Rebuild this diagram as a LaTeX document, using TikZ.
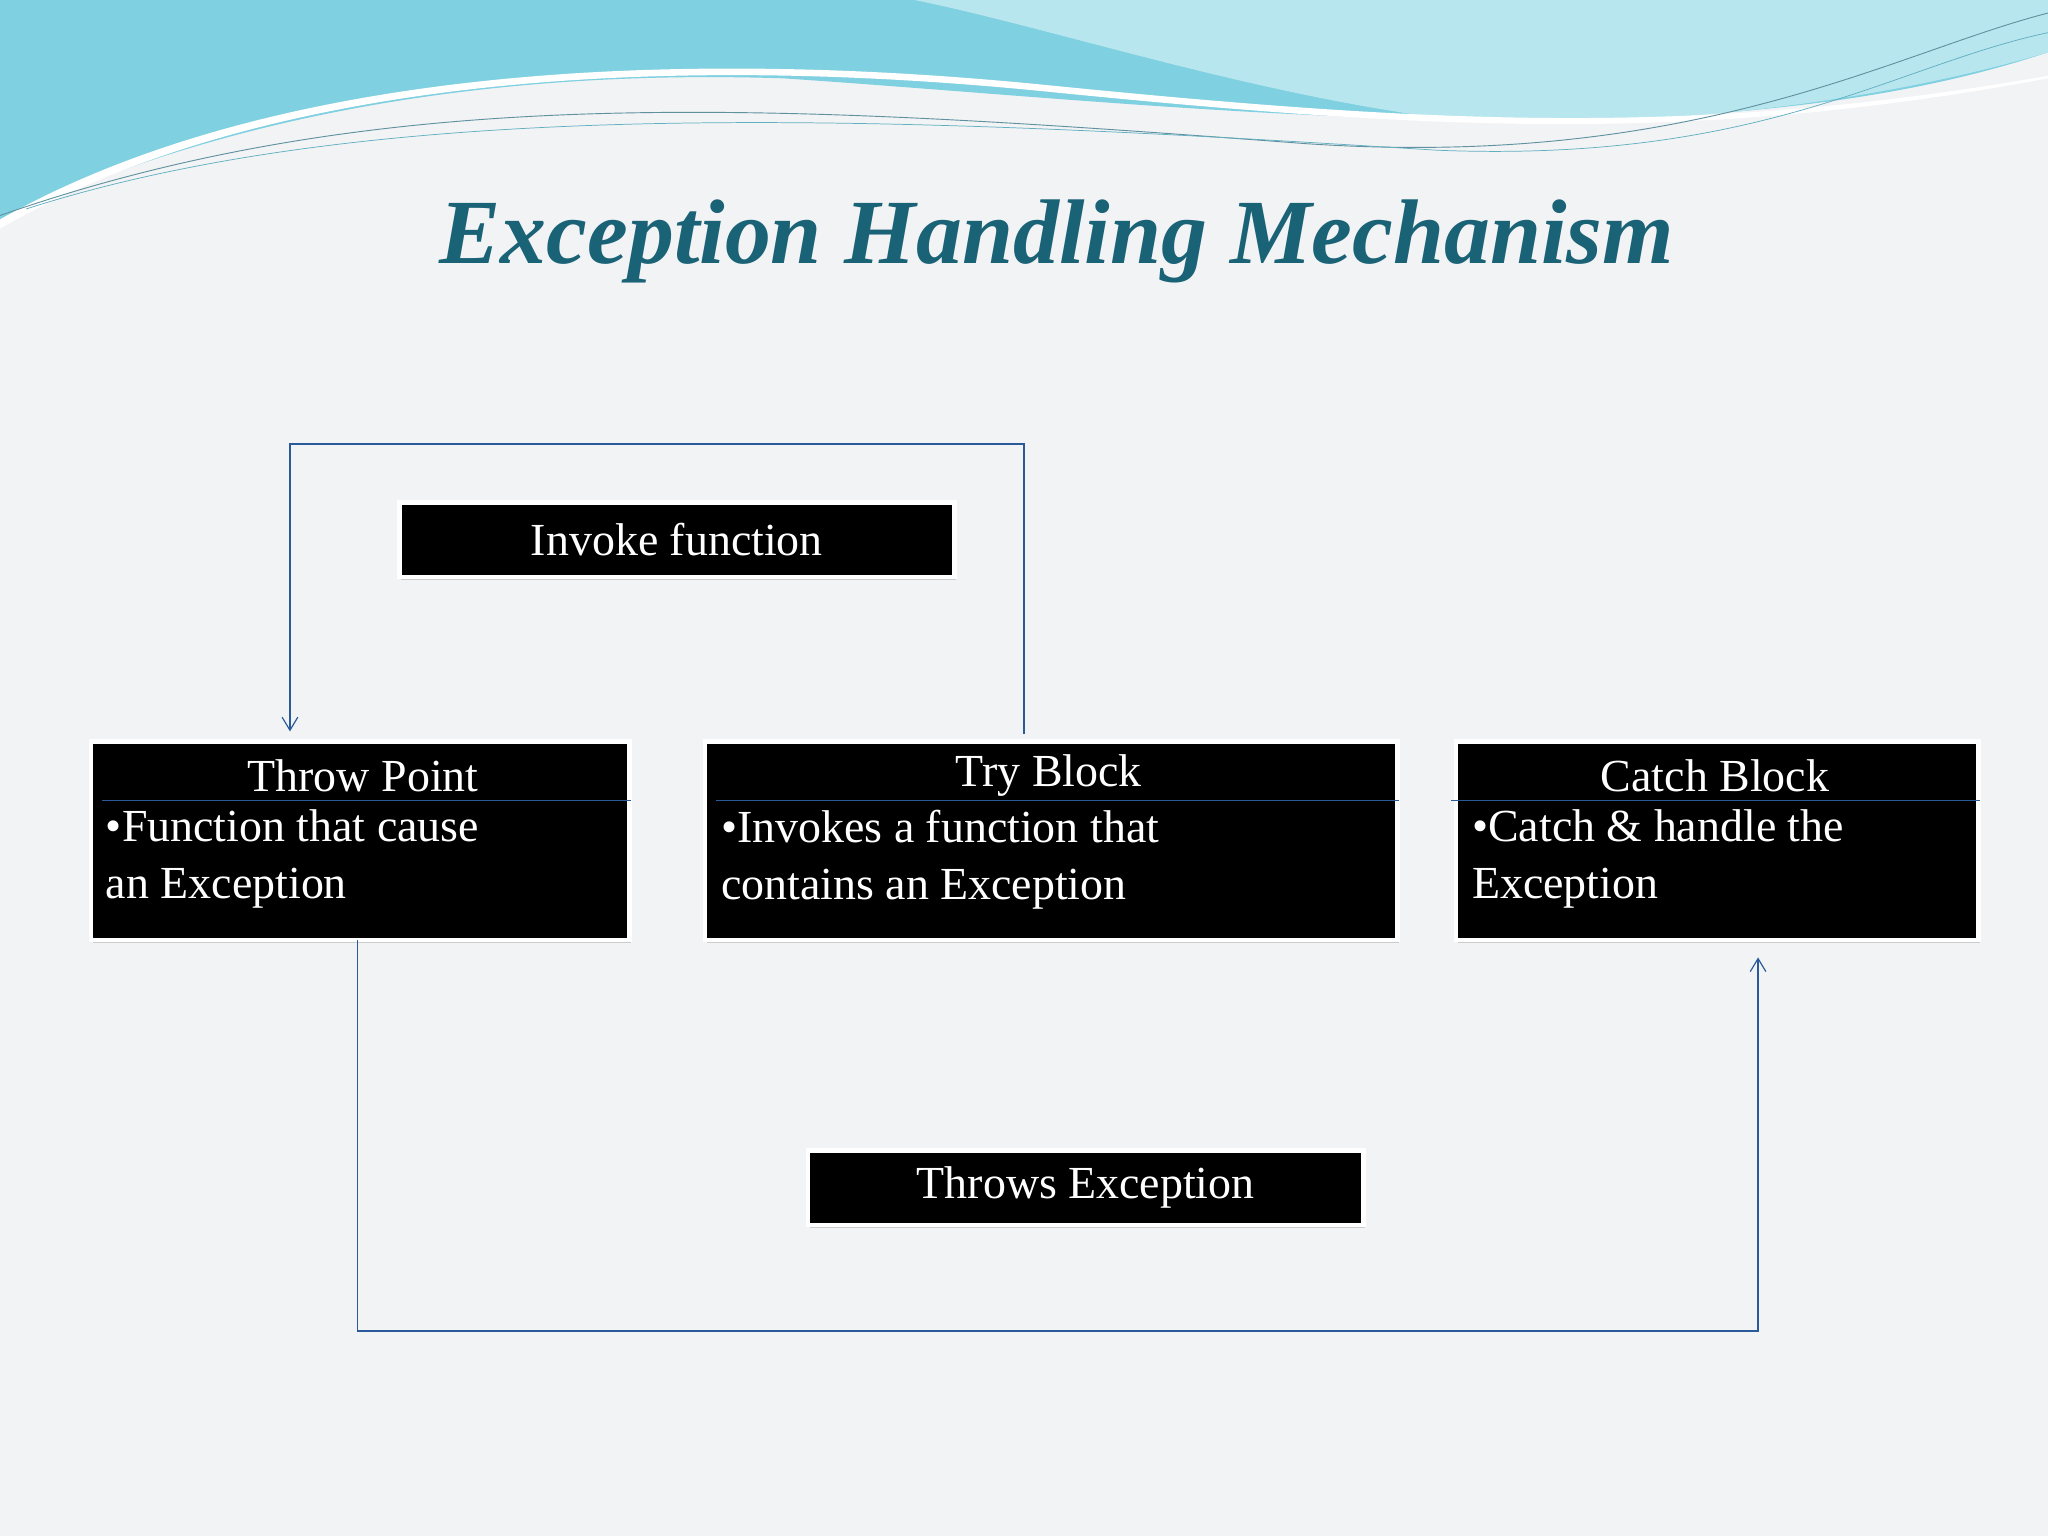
\documentclass[tikz,border=0pt]{standalone}
\usepackage{fontspec}
\setmainfont{Liberation Serif}
\usetikzlibrary{arrows.meta,shadows}
\definecolor{bg}{HTML}{F2F3F5}
\definecolor{teal1}{HTML}{1A6276}
\definecolor{ln}{HTML}{2A5A9A}
\definecolor{wave1}{HTML}{7FD0E0}
\definecolor{wave2}{HTML}{B8E6EE}
\tikzset{
 blk/.style={draw=white,line width=5pt,fill=black,inner sep=0pt,drop shadow={shadow xshift=0.6mm,shadow yshift=-1.2mm,fill=gray!70}},
 txt/.style={text=white,font=\fontsize{50}{62}\selectfont,inner sep=0pt},
 con/.style={draw=ln,line width=1.3pt},
 arr/.style={con,-{Straight Barb[length=5mm,width=6mm]}}
}
\begin{document}
\begin{tikzpicture}[x=0.05cm,y=-0.05cm]
\fill[bg] (0,0) rectangle (1568,1176);
\useasboundingbox (0,0) rectangle (1568,1176);
% top waves
\fill[wave1] (0,0) -- (1568,0) -- (1568,40) .. controls (1300,130) and (900,80) .. (600,60) .. controls (300,50) and (100,120) .. (0,170) -- cycle;
\fill[wave2] (700,0) -- (1568,0) -- (1568,40) .. controls (1400,90) and (1200,100) .. (1100,90) .. controls (950,70) and (800,20) .. (700,0) -- cycle;
\fill[white] (0,175) .. controls (200,60) and (500,40) .. (800,70) .. controls (1100,100) and (1300,110) .. (1568,60) -- (1568,58) .. controls (1300,105) and (1100,95) .. (800,65) .. controls (500,35) and (200,55) .. (0,168) -- cycle;
\draw[teal1!70,line width=1pt] (0,165) .. controls (300,60) and (600,80) .. (1000,110) .. controls (1300,130) and (1450,40) .. (1568,10);
\draw[wave1!70!teal1,line width=0.8pt] (20,160) .. controls (300,70) and (700,90) .. (1100,115) .. controls (1350,125) and (1450,50) .. (1568,25);

\node[font=\fontsize{100}{110}\selectfont\bfseries\itshape,text=teal1] (title) at (809,185) {Exception Handling Mechanism};

\node[blk,minimum width=412\pgflinewidth*0+20.6cm,minimum height=7.6cm,anchor=north west] (throw) at (68,566) {};
\node[blk,minimum width=26.5cm,minimum height=7.6cm,anchor=north west] (try) at (538,566) {};
\node[blk,minimum width=20cm,minimum height=7.6cm,anchor=north west] (catch) at (1113,566) {};
\node[blk,minimum width=21.25cm,minimum height=2.85cm,anchor=north west] (inv) at (304,383) {};
\node[blk,minimum width=21.25cm,minimum height=2.85cm,anchor=north west] (thr) at (617,879) {};

\node[txt] (invt) at (inv.center) {Invoke function};
\node[txt] (thrt) at (thr.center) {Throws Exception};

\node[txt] (h1) at (278,594) {Throw Point};
\node[txt] (h2) at (803,594) {Try Block};
\node[txt] (h3) at (1313,594) {Catch Block};
\draw[ln,line width=1pt] (78,613) -- (483,613);
\draw[ln,line width=1pt] (548,613) -- (1071,613);
\draw[ln,line width=1pt] (1111,613) -- (1516,613);
\node[txt,anchor=north west,align=left] (b1) at (81,620) {•Function that cause\\an Exception};
\node[txt,anchor=north west,align=left] (b2) at (552,620) {•Invokes a function that\\contains an Exception};
\node[txt,anchor=north west,align=left] (b3) at (1127,620) {•Catch \& handle the\\Exception};

\coordinate (ta) at (784,562);
\coordinate (tb) at (222,560);
\draw[arr] (ta) -- (784,340) -- (222,340) -- (tb);
\coordinate (ca) at (274,720);
\coordinate (cb) at (1346,733);
\draw[arr] (ca) -- (274,1019) -- (1346,1019) -- (cb);
\end{tikzpicture}
\end{document}
